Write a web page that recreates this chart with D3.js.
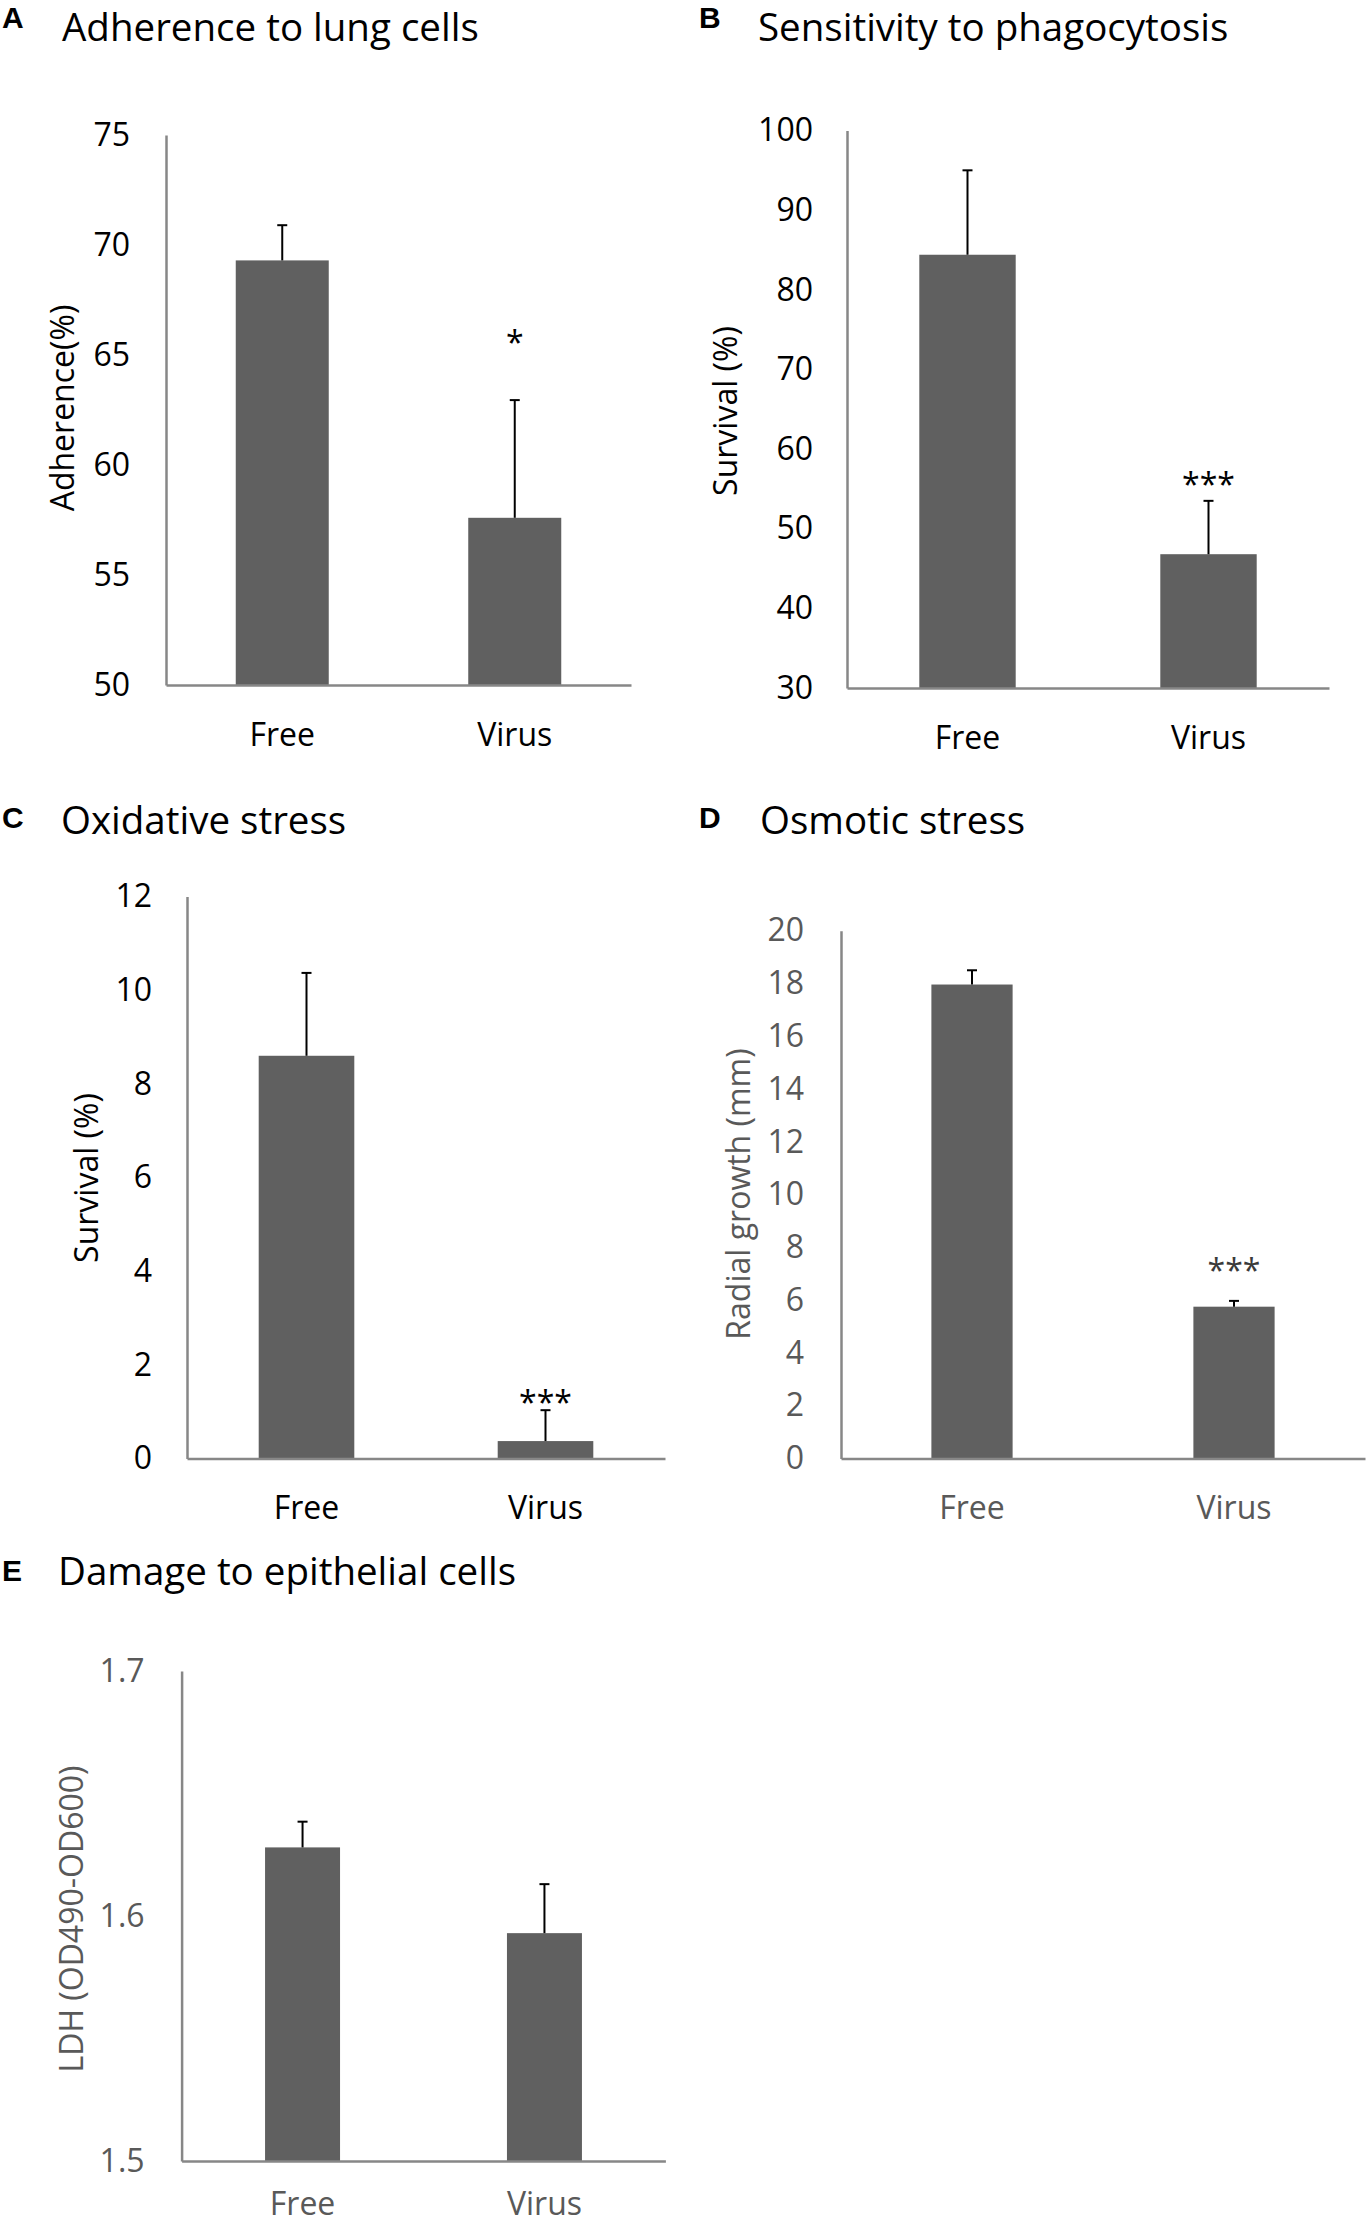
<!DOCTYPE html>
<html>
<head>
<meta charset="utf-8">
<script src="https://cdn.jsdelivr.net/npm/d3@7"></script>
<style>
  body { margin: 0; background: #fff; }
  svg { display: block; font-family: "Open Sans", sans-serif; }
  .domain { stroke: #878787; stroke-width: 2.5; }
</style>
</head>
<body>
<div id="svg-container"></div>
<script>
////////////////////////////  Data  ////////////////////////////
const categories = ["Free", "Virus"];

const adherenceMean = [69.3, 57.6];
const adherenceErr = [1.6, 5.35];
const adherenceSig = ["", "*"];
const adherenceTicks = [50, 55, 60, 65, 70, 75];

const phagoMean = [84.4, 46.8];
const phagoErr = [10.6, 6.7];
const phagoSig = ["", "***"];
const phagoTicks = [30, 40, 50, 60, 70, 80, 90, 100];

const oxidativeMean = [8.6, 0.37];
const oxidativeErr = [1.77, 0.66];
const oxidativeSig = ["", "***"];
const oxidativeTicks = [0, 2, 4, 6, 8, 10, 12];

const osmoticMean = [17.96, 5.75];
const osmoticErr = [0.54, 0.22];
const osmoticSig = ["", "***"];
const osmoticTicks = [0, 2, 4, 6, 8, 10, 12, 14, 16, 18, 20];

const ldhMean = [1.628, 1.593];
const ldhErr = [0.0105, 0.02];
const ldhSig = ["", ""];
const ldhTicks = [1.5, 1.6, 1.7];

////////////////////////////  Layout  ////////////////////////////
const width = 1369;
const height = 2224;

// 패널마다 위치/스타일
const panels = [
  { letter: "A", title: "Adherence to lung cells", yLabel: "Adherence(%)",
    mean: adherenceMean, err: adherenceErr, sig: adherenceSig, ticks: adherenceTicks, fmt: "d",
    box: { x0: 166, x1: 631, y0: 135, y1: 685 }, letterAt: [2, 28], titleAt: [62, 41],
    yLabelAt: [61, 408], tickPad: 36, catPad: 38, barFrac: 0.4, starLift: 46,
    ink: "#000", starInk: "#000" },
  { letter: "B", title: "Sensitivity to phagocytosis", yLabel: "Survival (%)",
    mean: phagoMean, err: phagoErr, sig: phagoSig, ticks: phagoTicks, fmt: "d",
    box: { x0: 847, x1: 1329, y0: 130.5, y1: 688 }, letterAt: [699, 28], titleAt: [758, 41],
    yLabelAt: [724, 411], tickPad: 34, catPad: 38, barFrac: 0.4, starLift: 5,
    ink: "#000", starInk: "#000" },
  { letter: "C", title: "Oxidative stress", yLabel: "Survival (%)",
    mean: oxidativeMean, err: oxidativeErr, sig: oxidativeSig, ticks: oxidativeTicks, fmt: "d",
    box: { x0: 187, x1: 665, y0: 896.6, y1: 1458.4 }, letterAt: [2, 828], titleAt: [61, 834],
    yLabelAt: [85, 1178], tickPad: 35, catPad: 38, barFrac: 0.4, starLift: -4,
    ink: "#000", starInk: "#000" },
  { letter: "D", title: "Osmotic stress", yLabel: "Radial growth (mm)",
    mean: osmoticMean, err: osmoticErr, sig: osmoticSig, ticks: osmoticTicks, fmt: "d",
    box: { x0: 841, x1: 1365, y0: 930.7, y1: 1458.4 }, letterAt: [699, 828], titleAt: [760, 834],
    yLabelAt: [737, 1194], tickPad: 37, catPad: 38, barFrac: 0.31, starLift: 19,
    ink: "#595959", starInk: "#3a3a3a" },
  { letter: "E", title: "Damage to epithelial cells", yLabel: "LDH (OD490-OD600)",
    mean: ldhMean, err: ldhErr, sig: ldhSig, ticks: ldhTicks, fmt: ".1f",
    box: { x0: 181.6, x1: 665.4, y0: 1671, y1: 2161 }, letterAt: [2, 1581], titleAt: [58, 1585],
    yLabelAt: [70, 1919], tickPad: 37, catPad: 31, barFrac: 0.31, starLift: 0,
    ink: "#595959", starInk: "#3a3a3a" }
];

////////////////////////////  Draw  ////////////////////////////
const svg = d3.select("#svg-container").append("svg")
  .attr("width", width)
  .attr("height", height);

panels.forEach((p) => {
  const g = svg.append("g");
  const b = p.box;

  const xScale = d3.scaleBand()
    .domain(categories)
    .range([b.x0, b.x1])
    .paddingInner(1 - p.barFrac)
    .paddingOuter((1 - p.barFrac) / 2);

  const yScale = d3.scaleLinear()
    .domain([p.ticks[0], p.ticks[p.ticks.length - 1]])
    .range([b.y1, b.y0]);

  const rows = categories.map((c, i) => ({ cat: c, mean: p.mean[i], err: p.err[i], sig: p.sig[i] }));

  // bars
  g.selectAll("rect.bar")
    .data(rows)
    .join("rect")
    .attr("class", "bar")
    .attr("x", (d) => xScale(d.cat))
    .attr("width", xScale.bandwidth())
    .attr("y", (d) => yScale(d.mean))
    .attr("height", (d) => yScale(p.ticks[0]) - yScale(d.mean))
    .attr("fill", "#606060");

  // error bars (위쪽만)
  const cx = (d) => xScale(d.cat) + xScale.bandwidth() / 2;
  g.selectAll("line.err")
    .data(rows)
    .join("line")
    .attr("x1", cx).attr("x2", cx)
    .attr("y1", (d) => yScale(d.mean))
    .attr("y2", (d) => yScale(d.mean + d.err))
    .attr("stroke", "#000").attr("stroke-width", 2);
  g.selectAll("line.cap")
    .data(rows)
    .join("line")
    .attr("x1", (d) => cx(d) - 5).attr("x2", (d) => cx(d) + 5)
    .attr("y1", (d) => yScale(d.mean + d.err))
    .attr("y2", (d) => yScale(d.mean + d.err))
    .attr("stroke", "#000").attr("stroke-width", 2);

  // significance stars
  g.selectAll("text.sig")
    .data(rows.filter((d) => d.sig))
    .join("text")
    .attr("x", cx)
    .attr("y", (d) => yScale(d.mean + d.err) - p.starLift)
    .attr("text-anchor", "middle")
    .attr("font-size", 32)
    .attr("fill", p.starInk)
    .text((d) => d.sig);

  // axes
  const yAxis = g.append("g")
    .attr("transform", `translate(${b.x0},0)`)
    .call(d3.axisLeft(yScale).tickValues(p.ticks).tickFormat(d3.format(p.fmt))
      .tickSize(0).tickPadding(p.tickPad));
  yAxis.selectAll("text").attr("font-size", 32).attr("fill", p.ink).attr("font-family", "Open Sans");

  const xAxis = g.append("g")
    .attr("transform", `translate(0,${b.y1})`)
    .call(d3.axisBottom(xScale).tickSize(0).tickPadding(p.catPad));
  xAxis.selectAll("text").attr("font-size", 32).attr("fill", p.ink).attr("font-family", "Open Sans");

  // y label
  g.append("text")
    .attr("transform", `translate(${p.yLabelAt[0]},${p.yLabelAt[1]}) rotate(-90)`)
    .attr("text-anchor", "middle")
    .attr("dominant-baseline", "central")
    .attr("font-size", 32)
    .attr("fill", p.ink)
    .text(p.yLabel);

  // panel letter + title
  g.append("text")
    .attr("x", p.letterAt[0]).attr("y", p.letterAt[1])
    .attr("font-family", "'Liberation Sans', Arial, sans-serif")
    .attr("font-weight", "bold")
    .attr("font-size", 30)
    .attr("fill", "#000")
    .text(p.letter);
  g.append("text")
    .attr("x", p.titleAt[0]).attr("y", p.titleAt[1])
    .attr("font-size", 38.5)
    .attr("fill", "#000")
    .text(p.title);
});
</script>
</body>
</html>
